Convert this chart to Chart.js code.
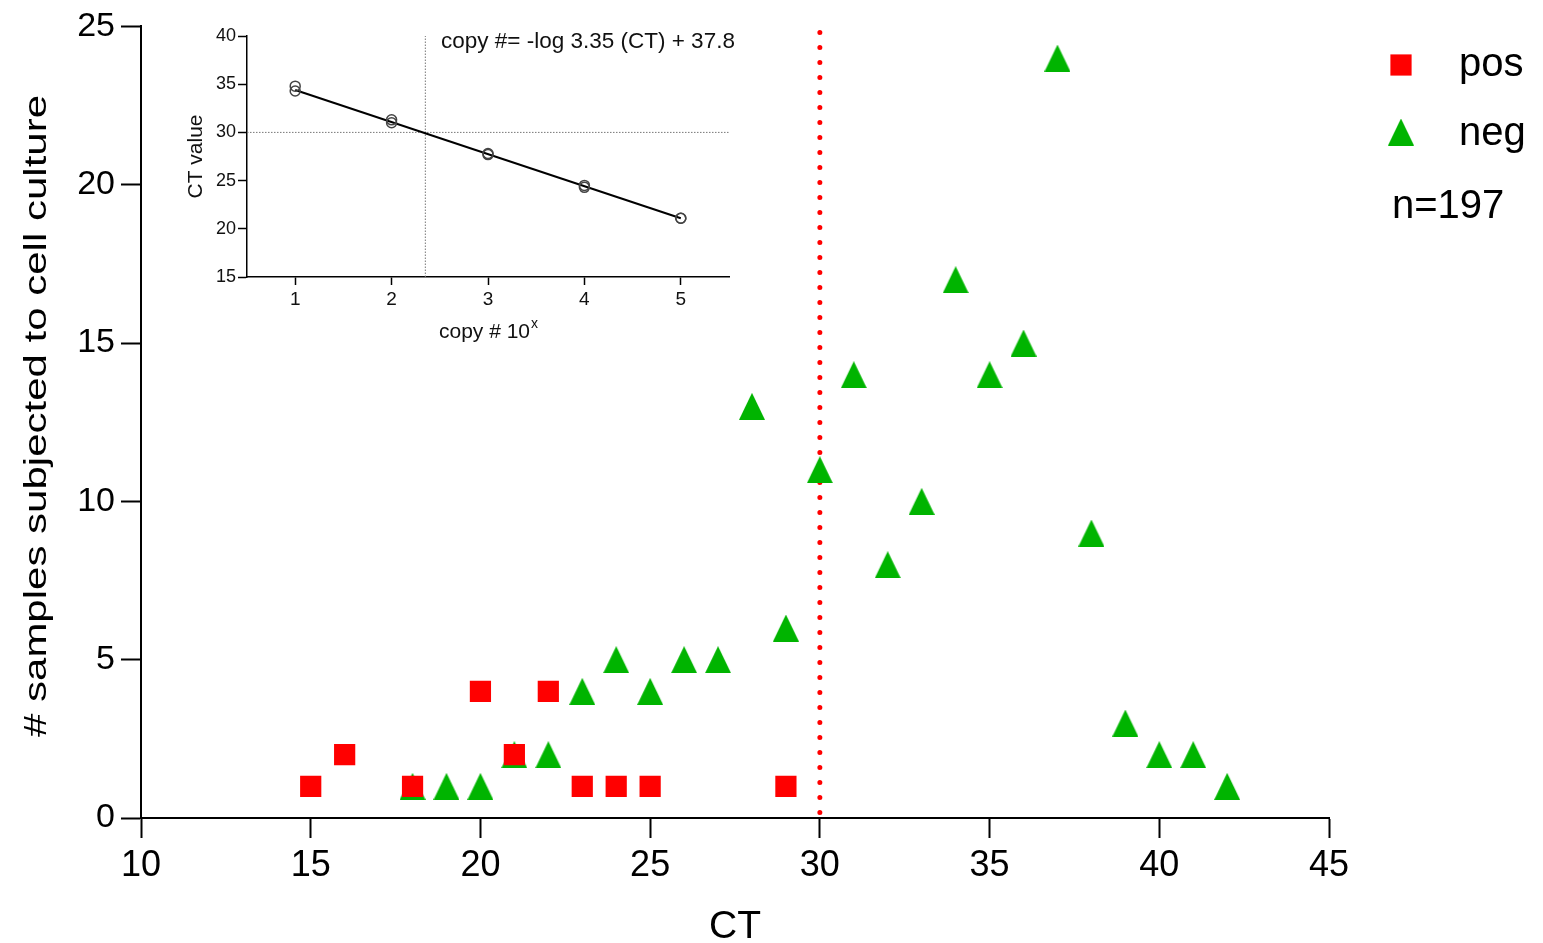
<!DOCTYPE html>
<html lang="en">
<head>
  <meta charset="utf-8">
  <title>CT of samples subjected to cell culture</title>
  <script src="https://cdn.jsdelivr.net/npm/chart.js@4.4.1/dist/chart.umd.min.js"></script>
  <style>
    html, body { margin: 0; padding: 0; background: #fff; }
    #wrap { position: relative; width: 1543px; height: 943px; }
    #main-chart { position: absolute; left: 0; top: 0; }
    #inset-chart { position: absolute; left: 175px; top: 20px; }
  </style>
</head>
<body>
<div id="wrap">
  <canvas id="main-chart" width="1543" height="943"></canvas>
  <canvas id="inset-chart" width="570" height="330"></canvas>
</div>

<script>
// main panel: number of samples per CT value
const posCT    = [15, 16, 18, 20, 21, 22, 23, 24, 25, 29];
const posCount = [ 1,  2,  1,  4,  2,  4,  1,  1,  1,  1];
const negCT    = [18, 19, 20, 21, 22, 23, 24, 25, 26, 27, 28, 29, 30, 31, 32, 33, 34, 35, 36, 37, 38, 39, 40, 41, 42];
const negCount = [ 1,  1,  1,  2,  2,  4,  5,  4,  5,  5, 13,  6, 11, 14,  8, 10, 17, 14, 15, 24,  9,  3,  2,  2,  1];
const cutoffCT = 30;
const mainXTicks = [10, 15, 20, 25, 30, 35, 40, 45];
const mainYTicks = [0, 5, 10, 15, 20, 25];
const sampleTotal = 'n=197';

// inset: standard curve
const stdCopyLog = [1, 1, 2, 2, 3, 3, 4, 4, 5, 5];
const stdCT      = [34.8, 34.3, 31.3, 31.0, 27.8, 27.7, 24.5, 24.3, 21.1, 21.1];
const fitCopyLog = [1, 5];
const fitCT      = [34.4, 21.1];
const cutoffCopyLog = 2.35;
const insetXTicks = [1, 2, 3, 4, 5];
const insetYTicks = [15, 20, 25, 30, 35, 40];
const fitText = 'copy #= -log 3.35 (CT) + 37.8';

const FONT = "'Liberation Sans', Arial, Helvetica, sans-serif";
const RED = '#ff0000';
const GREEN = '#00b400';

function triangleImage(w, h, color) {
  const c = document.createElement('canvas');
  c.width = w;
  c.height = h;
  const g = c.getContext('2d');
  g.fillStyle = color;
  g.beginPath();
  g.moveTo(w / 2, 0);
  g.lineTo(w, h);
  g.lineTo(0, h);
  g.closePath();
  g.fill();
  return c;
}
const triangle = triangleImage(26, 27, GREEN);

const toPoints = (xs, ys) => xs.map((x, i) => ({x: x, y: ys[i]}));
const fixedTicks = list => axis => { axis.ticks = list.map(v => ({value: v})); };

function axisStyle(tickLen, width, fontSize, pad, color) {
  return {
    border: {display: true, color: '#000', width: width},
    grid: {display: true, drawOnChartArea: false, drawTicks: true, tickLength: tickLen, tickColor: '#000', tickWidth: width},
    ticks: {font: {family: FONT, size: fontSize}, color: color || '#000', padding: pad},
  };
}

// titles and legend of main panel
const mainDecor = {
  id: 'mainDecor',
  afterDraw(chart) {
    const ctx = chart.ctx;
    const area = chart.chartArea;
    ctx.save();
    ctx.fillStyle = '#000';
    ctx.textBaseline = 'alphabetic';

    // x title
    ctx.font = '39px ' + FONT;
    ctx.textAlign = 'center';
    ctx.fillText('CT', (area.left + area.right) / 2, 938);

    // y title, stretched along its length like the original
    const yTitle = '# samples subjected to cell culture';
    ctx.font = '32px ' + FONT;
    const natural = ctx.measureText(yTitle).width;
    ctx.save();
    ctx.translate(46, 416);
    ctx.rotate(-Math.PI / 2);
    ctx.scale(642 / natural, 1);
    ctx.fillText(yTitle, 0, 0);
    ctx.restore();

    // legend
    const ds = chart.data.datasets;
    ctx.fillStyle = ds[0].backgroundColor;
    Chart.helpers.drawPoint(ctx, {pointStyle: 'rect', radius: 15, rotation: 0, borderWidth: 0}, 1401, 65);
    Chart.helpers.drawPoint(ctx, {pointStyle: triangle, radius: 13, rotation: 0, borderWidth: 0}, 1401, 132);
    ctx.fillStyle = '#000';
    ctx.font = '40px ' + FONT;
    ctx.textAlign = 'left';
    ctx.fillText(ds[0].label, 1459, 76);
    ctx.fillText(ds[1].label, 1459, 145);
    ctx.fillText(sampleTotal, 1392, 218);
    ctx.restore();
  }
};

const mainScales = {
  x: Object.assign(axisStyle(20, 2, 36, 6), {
    type: 'linear', min: 10, max: 45,
    afterBuildTicks: fixedTicks(mainXTicks),
    afterFit: s => { s.height = 125; },
  }),
  y: Object.assign(axisStyle(20, 2, 34, 6), {
    type: 'linear', min: 0, max: 25,
    afterBuildTicks: fixedTicks(mainYTicks),
    afterFit: s => { s.width = 141; },
  }),
};

const mainChart = new Chart(document.getElementById('main-chart'), {
  type: 'scatter',
  data: {
    datasets: [
      {label: 'pos', data: toPoints(posCT, posCount), pointStyle: 'rect', pointRadius: 15,
       pointHoverRadius: 15, backgroundColor: RED, borderWidth: 0, order: 0},
      {label: 'neg', data: toPoints(negCT, negCount), pointStyle: triangle, pointRadius: 13,
       pointHoverRadius: 13, backgroundColor: GREEN, borderWidth: 0, order: 1},
      {type: 'line', label: 'cutoff', data: [{x: cutoffCT, y: 25}, {x: cutoffCT, y: 0}],
       borderColor: RED, borderWidth: 5, borderDash: [0, 15], borderDashOffset: 9, borderCapStyle: 'round',
       pointRadius: 0, fill: false, order: 2},
    ],
  },
  options: {
    responsive: false,
    animation: false,
    devicePixelRatio: 1,
    layout: {padding: {left: 0, right: 214, top: 26, bottom: 0}},
    scales: mainScales,
    plugins: {legend: {display: false}, tooltip: {enabled: false}},
  },
  plugins: [mainDecor],
});

// titles of the inset
const insetDecor = {
  id: 'insetDecor',
  afterDraw(chart) {
    const ctx = chart.ctx;
    const area = chart.chartArea;
    ctx.save();
    ctx.fillStyle = '#111';
    ctx.textBaseline = 'alphabetic';

    ctx.font = '21px ' + FONT;
    ctx.textAlign = 'center';
    ctx.save();
    ctx.translate(27, (area.top + area.bottom) / 2);
    ctx.rotate(-Math.PI / 2);
    ctx.fillText('CT value', 0, 0);
    ctx.restore();

    // x title with superscript
    const base = 'copy # 10';
    ctx.font = '21px ' + FONT;
    const wBase = ctx.measureText(base).width;
    ctx.font = '14px ' + FONT;
    const wSup = ctx.measureText('x').width;
    const x0 = (area.left + area.right) / 2 - (wBase + wSup) / 2;
    ctx.textAlign = 'left';
    ctx.font = '21px ' + FONT;
    ctx.fillText(base, x0, 318);
    ctx.font = '14px ' + FONT;
    ctx.fillText('x', x0 + wBase + 1, 308);

    ctx.font = '22.5px ' + FONT;
    ctx.fillText(fitText, 266, 28);
    ctx.restore();
  }
};

const insetScales = {
  x: Object.assign(axisStyle(8, 1.5, 19, 3, '#111'), {
    type: 'linear', min: 0.5, max: 5.5,
    afterBuildTicks: fixedTicks(insetXTicks),
    afterFit: s => { s.height = 73; },
  }),
  y: Object.assign(axisStyle(9, 1.5, 18, 2, '#111'), {
    type: 'linear', min: 15, max: 40,
    afterBuildTicks: fixedTicks(insetYTicks),
    afterFit: s => { s.width = 72; },
  }),
};

const insetChart = new Chart(document.getElementById('inset-chart'), {
  type: 'scatter',
  data: {
    datasets: [
      {label: 'standards', data: toPoints(stdCopyLog, stdCT), pointStyle: 'circle', pointRadius: 5,
       backgroundColor: 'rgba(0,0,0,0)', borderColor: '#444', pointBorderWidth: 1.5, order: 0},
      {type: 'line', label: 'fit', data: toPoints(fitCopyLog, fitCT), borderColor: '#000',
       borderWidth: 2, pointRadius: 0, fill: false, order: 1},
      {type: 'line', label: 'copy at cutoff', data: [{x: cutoffCopyLog, y: 15}, {x: cutoffCopyLog, y: 40}],
       borderColor: '#777', borderWidth: 1, borderDash: [1.5, 1.5], pointRadius: 0, fill: false, order: 2},
      {type: 'line', label: 'CT cutoff', data: [{x: 0.5, y: cutoffCT}, {x: 5.5, y: cutoffCT}],
       borderColor: '#777', borderWidth: 1, borderDash: [1.5, 1.5], pointRadius: 0, fill: false, order: 3},
    ],
  },
  options: {
    responsive: false,
    animation: false,
    devicePixelRatio: 1,
    layout: {padding: {left: 0, right: 16, top: 16, bottom: 0}},
    scales: insetScales,
    plugins: {legend: {display: false}, tooltip: {enabled: false}},
  },
  plugins: [insetDecor],
});
</script>
</body>
</html>
